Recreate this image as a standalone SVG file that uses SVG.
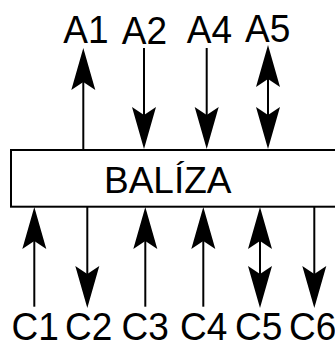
<svg xmlns="http://www.w3.org/2000/svg" xmlns:xlink="http://www.w3.org/1999/xlink" width="335" height="343" viewBox="0 0 335 343">
  <style>
    .lbl { font-family: "Liberation Sans", Arial, sans-serif; font-size: 39px; fill: #000; }
    .title { font-family: "Liberation Sans", Arial, sans-serif; font-size: 37px; fill: #000; }
    .wire { stroke: #000; stroke-width: 2; fill: none; }
    .head { fill: #000; stroke: none; }
    .box { fill: #fff; stroke: #000; stroke-width: 2; }
  </style>
  <defs>
    <!-- arrowhead pointing up, tip at origin -->
    <path id="ah" class="head" d="M0,0 L12,42 L0,34 L-12,42 Z"/>
  </defs>

  <g id="baliza">
    <rect class="box" x="11" y="150" width="340" height="56.7"/>
    <text class="title" x="104" y="193.3">BALÍZA</text>
  </g>

  <g id="connectors">
    <!-- upper signals -->
    <line class="wire" x1="83.3" y1="150" x2="83.3" y2="75"/>
    <use xlink:href="#ah" transform="translate(83.3,48)"/>

    <line class="wire" x1="144" y1="48" x2="144" y2="122"/>
    <use xlink:href="#ah" transform="translate(144,149) rotate(180)"/>

    <line class="wire" x1="206.7" y1="48" x2="206.7" y2="122"/>
    <use xlink:href="#ah" transform="translate(206.7,149) rotate(180)"/>

    <line class="wire" x1="268" y1="72" x2="268" y2="122"/>
    <use xlink:href="#ah" transform="translate(268,45)"/>
    <use xlink:href="#ah" transform="translate(268,149) rotate(180)"/>

    <!-- lower signals -->
    <line class="wire" x1="34.3" y1="235" x2="34.3" y2="306.7"/>
    <use xlink:href="#ah" transform="translate(34.3,207)"/>

    <line class="wire" x1="87.3" y1="207" x2="87.3" y2="280"/>
    <use xlink:href="#ah" transform="translate(87.3,308) rotate(180)"/>

    <line class="wire" x1="145.3" y1="235" x2="145.3" y2="306.7"/>
    <use xlink:href="#ah" transform="translate(145.3,207)"/>

    <line class="wire" x1="203.3" y1="235" x2="203.3" y2="306.7"/>
    <use xlink:href="#ah" transform="translate(203.3,207)"/>

    <line class="wire" x1="260" y1="235" x2="260" y2="280"/>
    <use xlink:href="#ah" transform="translate(260,207)"/>
    <use xlink:href="#ah" transform="translate(260,308) rotate(180)"/>

    <line class="wire" x1="314.3" y1="207" x2="314.3" y2="280"/>
    <use xlink:href="#ah" transform="translate(314.3,308) rotate(180)"/>
  </g>

  <g id="A1"><text class="lbl" transform="translate(63.3,43.3) scale(0.95,1)">A1</text></g>
  <g id="A2"><text class="lbl" transform="translate(121.7,44) scale(0.95,1)">A2</text></g>
  <g id="A4"><text class="lbl" transform="translate(186.7,42.7) scale(0.95,1)">A4</text></g>
  <g id="A5"><text class="lbl" transform="translate(245,41.5) scale(0.95,1)">A5</text></g>

  <g id="C1"><text class="lbl" transform="translate(11.5,339.5) scale(0.95,1)">C1</text></g>
  <g id="C2"><text class="lbl" transform="translate(65,339.5) scale(0.95,1)">C2</text></g>
  <g id="C3"><text class="lbl" transform="translate(121.5,339.5) scale(0.95,1)">C3</text></g>
  <g id="C4"><text class="lbl" transform="translate(180,339.5) scale(0.95,1)">C4</text></g>
  <g id="C5"><text class="lbl" transform="translate(235,339.5) scale(0.95,1)">C5</text></g>
  <g id="C6"><text class="lbl" transform="translate(289,339.5) scale(0.95,1)">C6</text></g>
</svg>
